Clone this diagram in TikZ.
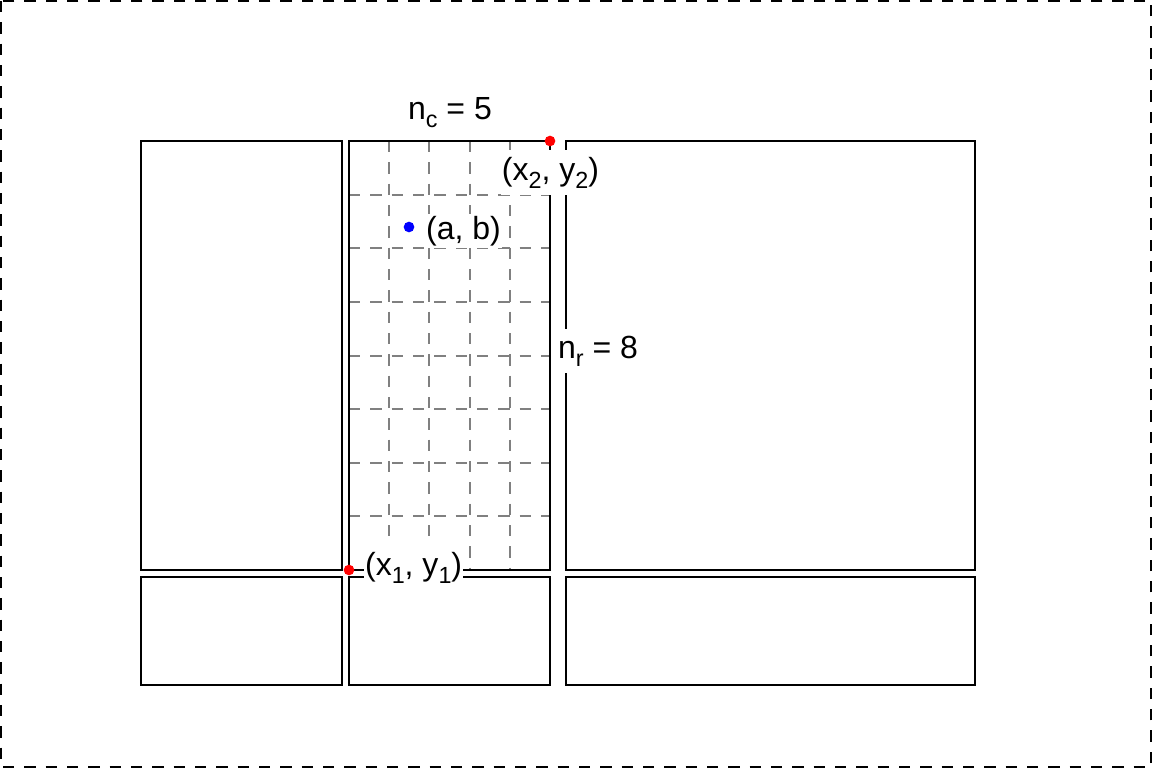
\documentclass[tikz,border=0pt]{standalone}
\usepackage{fontspec}
\setmainfont{Liberation Sans}
\usepackage{tikz}
\definecolor{cellgray}{RGB}{128,128,128}
\newcommand{\lowsub}[1]{\raisebox{-6.5pt}{\fontsize{17.5}{18}\selectfont #1}}

\begin{document}
\begin{tikzpicture}[x=0.75pt,y=-0.75pt,
		box/.style={line width=1.5pt},
		cellline/.style={draw=cellgray,line width=1.5pt,dash pattern=on 8.5pt off 7.5pt},
		dot/.style={circle,inner sep=0pt,minimum size=8pt},
		lab/.style={fill=white,inner xsep=1pt,inner ysep=5pt,font=\fontsize{24}{27}\selectfont}]
			\useasboundingbox (0,0) rectangle (1152,768);
			\draw [line width=1.5pt,dash pattern=on 8.5pt off 7.5pt] (1,1) rectangle (1151,767);

			% cells of the middle panel
			\foreach \i in {1,...,4}
				\draw [cellline] ({349+\i*201/5},141) -- ({349+\i*201/5},570);
			\foreach \j in {1,...,7}
				\draw [cellline] (349,{141+\j*429/8}) -- (550,{141+\j*429/8});

			% panels
			\draw [box] (141,141) rectangle (342,570);
			\draw [box] (349,141) rectangle (550,570);
			\draw [box] (566,141) rectangle (975,570);
			\draw [box] (141,577) rectangle (342,685);
			\draw [box] (349,577) rectangle (550,685);
			\draw [box] (566,577) rectangle (975,685);

			\node [lab,anchor=base] (nc) at (450,119) {n\lowsub{c} = 5};
			\node [lab,anchor=base west] (nr) at (556.5,358) {n\lowsub{r} = 8};
			\node [lab,anchor=base] (q2) at (550.5,180) {(x\lowsub{2}, y\lowsub{2})};
			\node [lab,anchor=base west] (q1) at (363.5,575) {(x\lowsub{1}, y\lowsub{1})};
			\node [lab,anchor=base west,inner ysep=1.5pt] (qab) at (424.5,239) {(a, b)};

			\node [dot,fill=red] (p1) at (349,570) {};
			\node [dot,fill=red] (p2) at (550,141) {};
			\node [dot,fill=blue] (pab) at (409,227) {};
		\end{tikzpicture}
\end{document}
